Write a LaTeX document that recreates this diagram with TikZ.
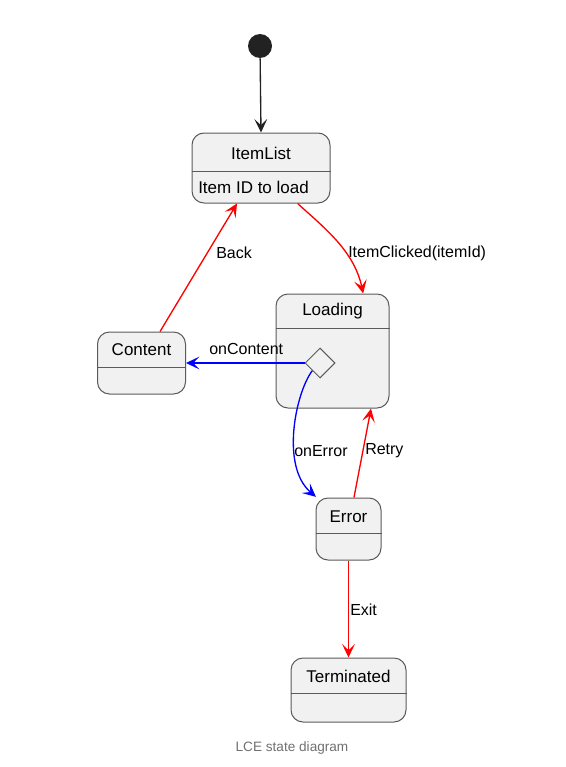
\documentclass[tikz,border=0pt]{standalone}
\usepackage{fontspec}
\setmainfont{Liberation Sans}
\usetikzlibrary{shapes.geometric,arrows.meta}
\definecolor{boxfill}{HTML}{F1F1F1}
\definecolor{boxline}{HTML}{5A5A5A}
\definecolor{capgray}{HTML}{707070}
\definecolor{startfill}{HTML}{222222}
\begin{document}
\begin{tikzpicture}[x=0.75pt,y=-0.75pt,
  state/.style={draw=boxline, fill=boxfill, rounded corners=9pt, line width=0.75pt, inner sep=0pt, rectangle},
  sep/.style={draw=boxline, line width=0.75pt},
  title/.style={font=\fontsize{12.75}{15}\selectfont, inner sep=0pt},
  lbl/.style={font=\fontsize{12}{14}\selectfont, inner sep=0pt, anchor=west},
  tip/.style={-{Stealth[length=10pt,width=9.5pt,inset=4.5pt]}},
  redline/.style={draw=red, line width=1pt, tip},
  blueline/.style={draw=blue, line width=1pt, tip},
  blackline/.style={draw=startfill, line width=1pt, tip},
]
\useasboundingbox (0,0) rectangle (566,767);

% start
\node[circle, fill=startfill, minimum size=18pt, inner sep=0pt] (start) at (260,46) {};

% ItemList
\node[state, minimum width=103.5pt, minimum height=52.5pt] (itemlist) at (261,168) {};
\draw[sep] (itemlist.west |- 0,171) coordinate (il1) -- (itemlist.east |- 0,171) coordinate (il2);
\node[title] (itemlistT) at (261,153) {ItemList};
\node[title, anchor=west] (itemlistB) at (198,187) {Item ID to load};

% Loading
\node[state, minimum width=84.75pt, minimum height=85.5pt] (loading) at (332.5,351) {};
\draw[sep] (loading.west |- 0,328) coordinate (lo1) -- (loading.east |- 0,328) coordinate (lo2);
\node[title] (loadingT) at (332.5,311) {Loading};
\node[diamond, draw=boxline, fill=boxfill, line width=0.75pt, minimum width=22.5pt, minimum height=22.5pt, inner sep=0pt] (dia) at (320,363) {};

% Content
\node[state, minimum width=66pt, minimum height=46.5pt] (content) at (141.5,363) {};
\draw[sep] (content.west |- 0,367) coordinate (co1) -- (content.east |- 0,367) coordinate (co2);
\node[title] (contentT) at (141.5,350) {Content};

% Error
\node[state, minimum width=48.75pt, minimum height=46.5pt] (error) at (348.5,529) {};
\draw[sep] (error.west |- 0,533) coordinate (er1) -- (error.east |- 0,533) coordinate (er2);
\node[title] (errorT) at (348.5,517) {Error};

% Terminated
\node[state, minimum width=86.25pt, minimum height=48pt] (term) at (348.5,690) {};
\draw[sep] (term.west |- 0,693) coordinate (te1) -- (term.east |- 0,693) coordinate (te2);
\node[title] (termT) at (348.5,676) {Terminated};

% edges
\draw[blackline] (start) -- (itemlist.north);
\draw[redline] ([xshift=27.5pt]itemlist.south) .. controls (322,226) and (354,250) .. ([xshift=23pt]loading.north);
\draw[redline] ([xshift=13.9pt]content.north) -- ([xshift=-18pt]itemlist.south);
\draw[blueline] (dia.west) -- (content.east);
\draw[blueline] (dia.south west) .. controls (296,392) and (280,466) .. ([xshift=0.3pt,yshift=0.5pt]error.north west);
\draw[redline] ([xshift=4.1pt]error.north) -- ([xshift=28.9pt]loading.south);
\draw[redline] (error.south) -- (term.north);

% labels
\node[lbl] (l1) at (348,253) {ItemClicked(itemId)};
\node[lbl] (l2) at (216,253) {Back};
\node[lbl] (l3) at (209,349) {onContent};
\node[lbl] (l4) at (294,451) {onError};
\node[lbl] (l5) at (365,451) {Retry};
\node[lbl] (l6) at (350,610) {Exit};

% caption
\node[font=\fontsize{10.2}{12}\selectfont, text=capgray, inner sep=0pt] (cap) at (292,748) {LCE state diagram};
\end{tikzpicture}
\end{document}
